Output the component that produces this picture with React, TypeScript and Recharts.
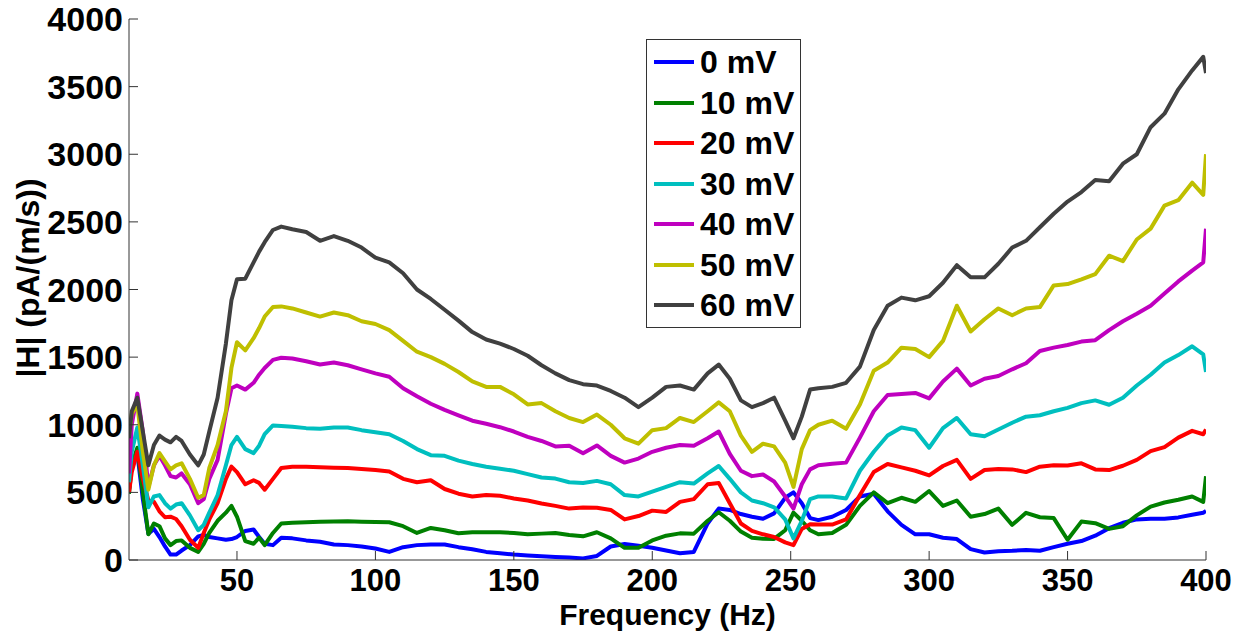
import { LineChart, Line, XAxis, YAxis, Legend } from 'recharts';

const freq = [11, 12, 14, 16, 18, 20, 22, 24, 26, 28,
  30, 33, 36, 38, 40, 43, 46, 48, 50, 53,
  56, 58, 60, 63, 66, 70, 75, 80, 85, 90,
  95, 100, 105, 110, 115, 120, 125, 130, 135, 140,
  145, 150, 155, 160, 165, 170, 175, 180, 185, 190,
  195, 200, 205, 210, 215, 220, 224, 228, 232, 236,
  240, 244, 248, 251, 254, 257, 260, 265, 270, 275,
  280, 285, 290, 295, 300, 305, 310, 315, 320, 325,
  330, 335, 340, 345, 350, 355, 360, 365, 370, 375,
  380, 385, 390, 395, 399, 400];

const mv0 = [520, 700, 790, 450, 195, 230, 170, 100, 40, 40,
  70, 110, 175, 185, 170, 160, 150, 155, 170, 215,
  225, 170, 120, 110, 165, 160, 145, 135, 115, 110,
  100, 85, 60, 95, 110, 115, 115, 95, 80, 60,
  50, 40, 33, 28, 22, 18, 12, 30, 100, 118,
  105, 90, 70, 50, 60, 270, 380, 370, 340, 320,
  305, 345, 460, 500, 420, 310, 295, 320, 370, 470,
  490, 360, 260, 190, 190, 165, 155, 80, 55, 65,
  68, 74, 68, 95, 120, 140, 180, 235, 275, 300,
  305, 305, 315, 335, 350, 362];

const mv10 = [490, 700, 830, 500, 190, 270, 250, 160, 110, 140,
  145, 90, 60, 120, 200, 290, 350, 400, 320, 140,
  120, 165, 110, 200, 270, 275, 280, 283, 285, 287,
  283, 281, 279, 250, 200, 237, 220, 198, 205, 205,
  205, 200, 190, 195, 200, 185, 175, 205, 160, 90,
  90, 145, 180, 197, 195, 290, 353, 290, 210, 165,
  157, 156, 220, 350, 290, 220, 190, 200, 260, 400,
  500, 420, 460, 430, 510, 400, 440, 320, 340, 380,
  260, 349, 316, 310, 150, 284, 272, 230, 250, 330,
  395, 425, 445, 470, 430, 620];

const mv20 = [500, 650, 800, 600, 440, 430, 360, 316, 320, 303,
  250, 150, 90, 200, 300, 420, 600, 690, 650, 560,
  590, 570, 520, 600, 680, 690, 690, 685, 682, 680,
  672, 665, 655, 600, 575, 590, 525, 490, 470, 480,
  475, 455, 440, 418, 400, 380, 388, 387, 370, 300,
  325, 365, 355, 430, 450, 560, 570, 420, 270, 215,
  190, 170, 130, 110, 230, 265, 262, 262, 300, 480,
  650, 710, 685, 660, 625, 695, 740, 600, 665, 672,
  670, 650, 690, 700, 698, 715, 670, 665, 697, 740,
  805, 835, 905, 955, 930, 965];

const mv30 = [575, 800, 980, 700, 390, 470, 480, 420, 380, 410,
  420, 330, 220, 260, 350, 480, 700, 850, 910, 820,
  790, 845, 930, 995, 990, 985, 975, 970, 980, 980,
  960, 945, 930, 880, 820, 775, 770, 735, 710, 690,
  675, 660, 635, 610, 602, 575, 570, 585, 560, 480,
  470, 505, 540, 575, 565, 640, 695, 600, 500, 440,
  420, 390, 300, 160, 290, 450, 470, 470, 455, 660,
  800, 920, 980, 960, 830, 975, 1050, 930, 915, 965,
  1015, 1060, 1070, 1100, 1125, 1160, 1180, 1148, 1200, 1290,
  1370, 1460, 1515, 1580, 1520, 1390];

const mv40 = [640, 1000, 1230, 950, 540, 700, 770, 700, 620, 610,
  640, 560, 420, 450, 600, 740, 1080, 1270, 1290, 1260,
  1310, 1370, 1420, 1480, 1495, 1490, 1470, 1445, 1460, 1440,
  1410, 1380, 1355, 1270, 1210, 1155, 1110, 1070, 1030, 1007,
  982, 950, 910, 880, 840, 845, 790, 847, 770, 720,
  750, 800, 830, 850, 845, 900, 950, 785, 660, 620,
  632, 580, 470, 380, 560, 670, 700, 712, 720, 905,
  1100, 1220, 1228, 1235, 1195, 1320, 1415, 1290, 1340, 1360,
  1410, 1455, 1545, 1570, 1590, 1615, 1625, 1700, 1765, 1820,
  1880, 1970, 2060, 2140, 2200, 2450];

const mv50 = [930, 1080, 1150, 800, 520, 700, 790, 730, 670, 700,
  715, 600, 460, 480, 680, 850, 1100, 1420, 1610, 1550,
  1640, 1715, 1800, 1871, 1875, 1860, 1830, 1800, 1830, 1810,
  1765, 1745, 1700, 1620, 1540, 1500, 1450, 1390, 1320, 1280,
  1280, 1225, 1150, 1160, 1100, 1050, 1020, 1075, 1000, 900,
  860, 960, 975, 1050, 1020, 1100, 1165, 1100, 920, 800,
  860, 840, 720, 540, 820, 960, 1000, 1030, 970, 1150,
  1400, 1460, 1570, 1560, 1500, 1620, 1880, 1690, 1780, 1860,
  1810, 1860, 1870, 2030, 2040, 2075, 2114, 2250, 2210, 2370,
  2450, 2620, 2660, 2790, 2700, 3000];

const mv60 = [900, 1100, 1200, 950, 700, 850, 920, 890, 870, 910,
  880, 780, 700, 780, 950, 1200, 1600, 1920, 2075, 2080,
  2200, 2280, 2350, 2440, 2465, 2445, 2425, 2360, 2395, 2360,
  2310, 2235, 2200, 2120, 2000, 1930, 1850, 1770, 1685, 1630,
  1600, 1560, 1510, 1440, 1380, 1330, 1300, 1290, 1250, 1200,
  1130, 1200, 1280, 1290, 1260, 1380, 1445, 1340, 1180, 1130,
  1160, 1200, 1030, 900, 1060, 1260, 1270, 1280, 1310, 1430,
  1700, 1880, 1940, 1920, 1950, 2050, 2180, 2090, 2090, 2190,
  2310, 2360, 2460, 2560, 2650, 2720, 2810, 2800, 2930, 3000,
  3200, 3300, 3480, 3620, 3720, 3600];

const seriesKeys = ['s0', 's10', 's20', 's30', 's40', 's50', 's60'];
const seriesNames = ['0 mV', '10 mV', '20 mV', '30 mV', '40 mV', '50 mV', '60 mV'];
const seriesColors = ['#0000ff', '#008000', '#ff0000', '#00bfbf', '#bf00bf', '#bfbf00', '#404040'];
const allSeries = [mv0, mv10, mv20, mv30, mv40, mv50, mv60];

const xTicks = [50, 100, 150, 200, 250, 300, 350, 400];
const yTicks = [0, 500, 1000, 1500, 2000, 2500, 3000, 3500, 4000];

const rows = freq.map((f, i) => {
  const row: Record<string, number> = { f };
  seriesKeys.forEach((k, j) => { row[k] = allSeries[j][i]; });
  return row;
});

const FONT = '"Liberation Sans", Arial, sans-serif';
const yTickStyle = { fontSize: 34, fontWeight: 'bold', fill: '#000', fontFamily: FONT };
const xTickStyle = { fontSize: 31, fontWeight: 'bold', fill: '#000', fontFamily: FONT };

function LegendBox() {
  return (
    <div style={{ width: 155, height: 289, border: '1px solid #333', background: '#fff', boxSizing: 'border-box', paddingTop: 2 }}>
      {seriesNames.map((name, i) => (
        <div key={name} style={{ display: 'flex', alignItems: 'center', height: 40.5 }}>
          <span style={{ display: 'inline-block', width: 40, height: 4, background: seriesColors[i], marginLeft: 7 }} />
          <span style={{ marginLeft: 6, fontSize: 32, fontWeight: 'bold', color: '#000', fontFamily: FONT, lineHeight: 1 }}>{name}</span>
        </div>
      ))}
    </div>
  );
}

function YLabel() {
  return (
    <text x={28} y={278} transform="rotate(-90 28 278)" textAnchor="middle" dominantBaseline="central"
      style={{ fontSize: 32, fontWeight: 'bold', fontFamily: FONT, fill: '#000' }}>
      |H| (pA/(m/s))
    </text>
  );
}

export default function App() {
  return (
    <div style={{ position: 'absolute', left: 0, top: 0, width: 1243, height: 632, background: '#fff', fontFamily: FONT }}>
      <LineChart width={1243} height={632} data={rows} margin={{ top: 19, right: 37, bottom: 0, left: 0 }}>
        <XAxis dataKey="f" type="number" domain={[11, 400]} ticks={xTicks} allowDataOverflow interval={0}
          height={72} tickSize={-9} tickMargin={18} tick={xTickStyle}
          axisLine={{ stroke: '#333' }} tickLine={{ stroke: '#333' }}
          label={{ value: 'Frequency (Hz)', position: 'insideBottom', offset: 7, style: { fontSize: 30, fontWeight: 'bold', fill: '#000', fontFamily: FONT } }} />
        <XAxis xAxisId="top" orientation="top" type="number" domain={[11, 400]} ticks={xTicks} allowDataOverflow interval={0}
          height={0} tickSize={-9} tickFormatter={() => ''}
          axisLine={{ stroke: '#222' }} tickLine={{ stroke: '#222' }} />
        <YAxis type="number" domain={[0, 4000]} ticks={yTicks} allowDataOverflow interval={0}
          width={129} tickSize={-9} tickMargin={15} tick={yTickStyle}
          axisLine={{ stroke: '#333' }} tickLine={{ stroke: '#333' }} label={<YLabel />} />
        <YAxis yAxisId="right" orientation="right" type="number" domain={[0, 4000]} ticks={yTicks} allowDataOverflow interval={0}
          width={0} tickSize={-9} tickFormatter={() => ''}
          axisLine={{ stroke: '#333' }} tickLine={{ stroke: '#333' }} />
        {seriesKeys.map((k, i) => (
          <Line key={k} dataKey={k} name={seriesNames[i]} type="linear" stroke={seriesColors[i]} strokeWidth={4}
            strokeLinejoin="round" dot={false} activeDot={false} isAnimationActive={false} />
        ))}
        <Legend layout="vertical" align="center" verticalAlign="middle" content={<LegendBox />}
          wrapperStyle={{ position: 'absolute', left: 646, top: 39, width: 155, height: 289 }} />
      </LineChart>
    </div>
  );
}
